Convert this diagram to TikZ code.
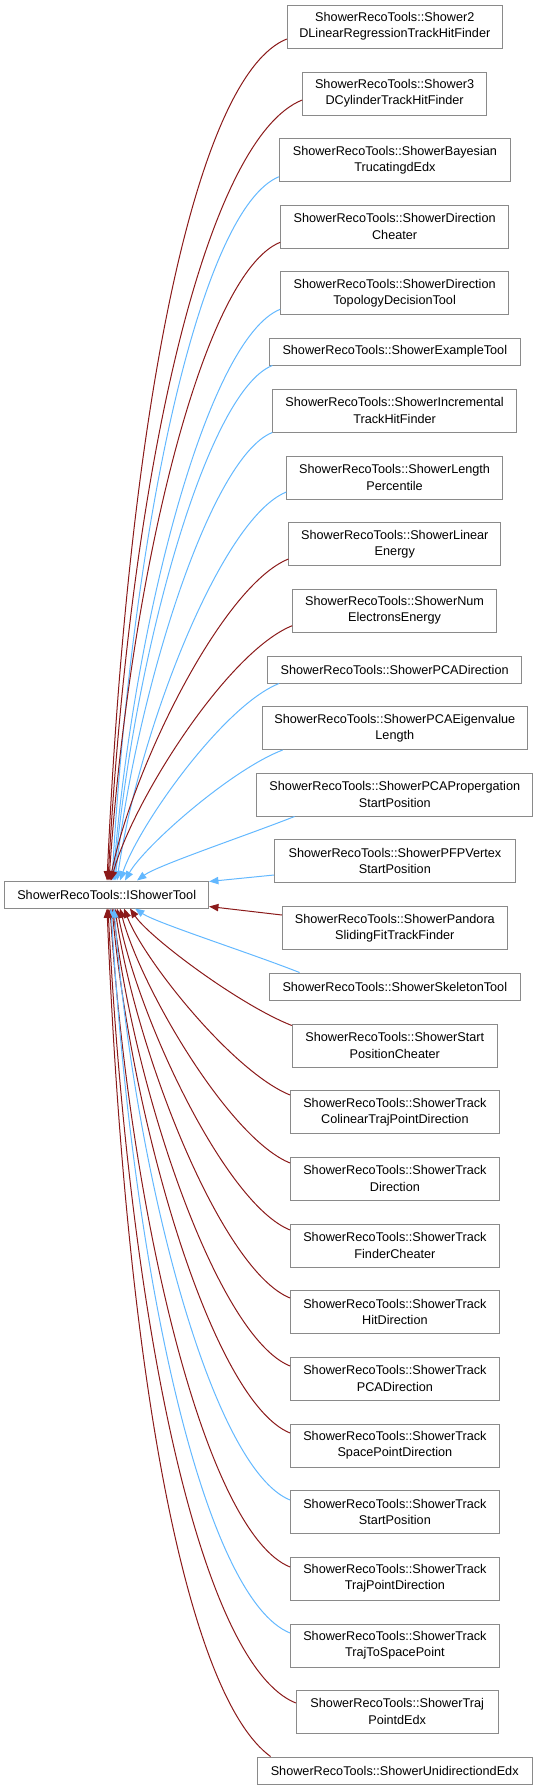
\documentclass[tikz,border=0pt]{standalone}
\usepackage{fontspec}
\setmainfont{Liberation Sans}
\usetikzlibrary{arrows.meta}
\definecolor{boxgray}{HTML}{8A8A8A}
\definecolor{edgered}{HTML}{8B1A1A}
\definecolor{edgeblue}{HTML}{63B8FF}
\tikzset{
  cls/.style={draw=boxgray, line width=0.75pt, fill=white, align=center, inner sep=0pt,
    font=\fontsize{9.5pt}{12.2pt}\selectfont},
  two/.style={cls, minimum height=32.25pt},
  one/.style={cls, minimum height=20.25pt},
  prot/.style={draw=edgered, line width=0.75pt, -{Triangle[length=7pt,width=5.5pt]}},
  publ/.style={draw=edgeblue, line width=0.75pt, -{Triangle[length=7pt,width=5.5pt]}},
}
\begin{document}
\begin{tikzpicture}[x=0.75pt,y=-0.75pt]
\useasboundingbox (0,0) rectangle (538,1789);
% nodes
\node[one, minimum width=152.85pt] (base) at (106.7,894.5) {ShowerRecoTools::IShowerTool};
\node[two, minimum width=161.3pt] (n1) at (394.8,26.5) {ShowerRecoTools::Shower2\\DLinearRegressionTrackHitFinder};
\node[two, minimum width=137.9pt] (n2) at (394.6,93.5) {ShowerRecoTools::Shower3\\DCylinderTrackHitFinder};
\node[two, minimum width=173pt] (n3) at (394.9,160) {ShowerRecoTools::ShowerBayesian\\TrucatingdEdx};
\node[two, minimum width=170.9pt] (n4) at (394.6,226.5) {ShowerRecoTools::ShowerDirection\\Cheater};
\node[two, minimum width=170.9pt] (n5) at (394.6,293) {ShowerRecoTools::ShowerDirection\\TopologyDecisionTool};
\node[one, minimum width=188.6pt] (n6) at (394.8,351.5) {ShowerRecoTools::ShowerExampleTool};
\node[two, minimum width=182.7pt] (n7) at (394.6,410.5) {ShowerRecoTools::ShowerIncremental\\TrackHitFinder};
\node[two, minimum width=161.6pt] (n8) at (394.6,477.5) {ShowerRecoTools::ShowerLength\\Percentile};
\node[two, minimum width=158.8pt] (n9) at (394.8,544) {ShowerRecoTools::ShowerLinear\\Energy};
\node[two, minimum width=152.9pt] (n10) at (394.6,610.5) {ShowerRecoTools::ShowerNum\\ElectronsEnergy};
\node[one, minimum width=191pt] (n11) at (394.6,669.5) {ShowerRecoTools::ShowerPCADirection};
\node[two, minimum width=199pt] (n12) at (394.8,728) {ShowerRecoTools::ShowerPCAEigenvalue\\Length};
\node[two, minimum width=207.2pt] (n13) at (394.8,794.5) {ShowerRecoTools::ShowerPCAPropergation\\StartPosition};
\node[two, minimum width=180.7pt] (n14) at (394.9,861) {ShowerRecoTools::ShowerPFPVertex\\StartPosition};
\node[two, minimum width=168.5pt] (n15) at (394.8,928) {ShowerRecoTools::ShowerPandora\\SlidingFitTrackFinder};
\node[one, minimum width=188.6pt] (n16) at (394.8,986.5) {ShowerRecoTools::ShowerSkeletonTool};
\node[two, minimum width=153.7pt] (n17) at (394.8,1045.5) {ShowerRecoTools::ShowerStart\\PositionCheater};
\node[two, minimum width=156.5pt] (n18) at (394.9,1112) {ShowerRecoTools::ShowerTrack\\ColinearTrajPointDirection};
\node[two, minimum width=156.5pt] (n19) at (394.9,1178.5) {ShowerRecoTools::ShowerTrack\\Direction};
\node[two, minimum width=156.5pt] (n20) at (394.9,1245.5) {ShowerRecoTools::ShowerTrack\\FinderCheater};
\node[two, minimum width=156.5pt] (n21) at (394.9,1312) {ShowerRecoTools::ShowerTrack\\HitDirection};
\node[two, minimum width=156.5pt] (n22) at (394.9,1378.5) {ShowerRecoTools::ShowerTrack\\PCADirection};
\node[two, minimum width=156.5pt] (n23) at (394.9,1445.5) {ShowerRecoTools::ShowerTrack\\SpacePointDirection};
\node[two, minimum width=156.5pt] (n24) at (394.9,1512) {ShowerRecoTools::ShowerTrack\\StartPosition};
\node[two, minimum width=156.5pt] (n25) at (394.9,1578.5) {ShowerRecoTools::ShowerTrack\\TrajPointDirection};
\node[two, minimum width=156.5pt] (n26) at (394.9,1645.5) {ShowerRecoTools::ShowerTrack\\TrajToSpacePoint};
\node[two, minimum width=151.3pt] (n27) at (397.2,1711.5) {ShowerRecoTools::ShowerTraj\\PointdEdx};
\node[one, minimum width=206pt] (n28) at (394.7,1770.5) {ShowerRecoTools::ShowerUnidirectiondEdx};
% edges above
\draw[prot] ([yshift=-9.375pt]n1.west) .. controls (197.1,75) and (128.8,400.6) .. ([xshift=0.225pt]base.north);
\draw[prot] ([yshift=-4.875pt]n2.west) .. controls (208.1,137.8) and (131.4,456.5) .. ([xshift=0.975pt]base.north);
\draw[publ] ([yshift=-12.525pt]n3.west) .. controls (201.3,208) and (132.4,522) .. ([xshift=3.975pt]base.north);
\draw[prot] ([yshift=-11.85pt]n4.west) .. controls (203.1,273.3) and (129.9,573.5) .. ([xshift=1.725pt]base.north);
\draw[publ] ([yshift=-12.225pt]n5.west) .. controls (207.6,338.5) and (133.4,622.6) .. ([xshift=4.725pt]base.north);
\draw[publ] ([xshift=2.85pt]n6.south west) .. controls (205.8,391.8) and (133.5,660.3) .. ([xshift=5.475pt]base.north);
\draw[publ] (n7.south west) .. controls (208.6,457.7) and (134.4,702.1) .. ([xshift=6.225pt]base.north);
\draw[publ] ([yshift=-10.875pt]n8.west) .. controls (220.2,518.6) and (137.7,736.2) .. ([xshift=7.725pt]base.north);
\draw[prot] ([yshift=-11.25pt]n9.west) .. controls (221.6,585.9) and (131.7,770.5) .. ([xshift=2.475pt]base.north);
\draw[prot] ([yshift=-11.4pt]n10.west) .. controls (227.2,651.9) and (133,800.7) .. ([xshift=3.225pt]base.north);
\draw[publ] ([xshift=9.225pt]n11.south west) .. controls (224.2,705.1) and (139.6,823.5) .. ([xshift=9.975pt]base.north);
\draw[publ] ([xshift=15.75pt]n12.south west) .. controls (230.7,769.9) and (144.4,846.2) .. ([xshift=13.725pt]base.north);
\draw[publ] ([xshift=28.8pt]n13.south west) .. controls (245.2,835.9) and (157.5,865.4) .. ([xshift=22.725pt]base.north);
% side edges
\draw[publ] ([yshift=-10.5pt]n14.west) -- ([yshift=-0.75pt]base.north east);
\draw[prot] ([yshift=9.75pt]n15.west) -- ([yshift=1.5pt]base.south east);
% edges below
\draw[publ] ([xshift=23.25pt]n16.north west) .. controls (248,952.2) and (156.3,922.9) .. ([xshift=21.225pt]base.south);
\draw[prot] ([yshift=-1.5pt]n17.north west) .. controls (239,1004.7) and (149.7,937.7) .. ([xshift=17.475pt]base.south);
\draw[prot] ([yshift=12.75pt]n18.west) .. controls (233.2,1072) and (144.3,960.8) .. ([xshift=12.975pt]base.south);
\draw[prot] ([yshift=11.625pt]n19.west) .. controls (229.1,1138.4) and (140.8,987.6) .. ([xshift=9.975pt]base.south);
\draw[prot] ([yshift=11.625pt]n20.west) .. controls (225.2,1203.8) and (138.1,1018) .. ([xshift=7.725pt]base.south);
\draw[prot] ([yshift=10.5pt]n21.west) .. controls (221.6,1270.4) and (136.3,1053) .. ([xshift=6.225pt]base.south);
\draw[prot] ([yshift=9.375pt]n22.west) .. controls (218,1337) and (134.5,1091.9) .. ([xshift=4.725pt]base.south);
\draw[prot] ([yshift=9.375pt]n23.west) .. controls (214.7,1402.6) and (133.6,1134.3) .. ([xshift=3.975pt]base.south);
\draw[publ] ([yshift=9pt]n24.west) .. controls (212.8,1468.9) and (135.4,1180.6) .. ([xshift=5.475pt]base.south);
\draw[prot] ([yshift=8.625pt]n25.west) .. controls (208.1,1534) and (131.9,1230.9) .. ([xshift=2.475pt]base.south);
\draw[publ] ([yshift=9.375pt]n26.west) .. controls (205.8,1599.1) and (132.8,1284.3) .. ([xshift=3.225pt]base.south);
\draw[prot] ([yshift=6.375pt]n27.west) .. controls (204.1,1666.2) and (130.7,1345) .. ([xshift=0.975pt]base.south);
\draw[prot] ([xshift=10.275pt]n28.north west) .. controls (189,1697) and (127,1392) .. ([xshift=0.225pt]base.south);
\end{tikzpicture}
\end{document}
